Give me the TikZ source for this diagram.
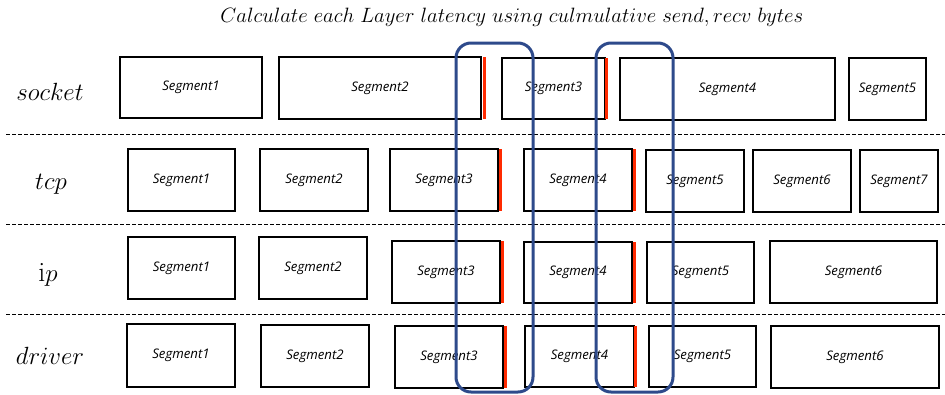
\documentclass[tikz,border=0pt]{standalone}
\usepackage{fontspec}
\newfontfamily\segfont{Open Sans}
\definecolor{windowblue}{HTML}{2E4A8B}
\definecolor{markred}{HTML}{FF2A00}
\tikzset{
  segbox/.style={draw=black, line width=1.6pt, inner sep=0pt, outer sep=0pt,
    font=\segfont\itshape\fontsize{13.2}{15}\selectfont},
  bytemark/.style={draw=markred, line width=3pt},
  window/.style={draw=windowblue, line width=3pt, rounded corners=15pt},
  layersep/.style={draw=black, line width=0.9pt, dash pattern=on 4pt off 2pt},
  layername/.style={font=\fontsize{28}{30}\selectfont},
  caption/.style={font=\fontsize{20.2}{22}\selectfont}
}
% box from (x1,y1) to (x2,y2)
\newcommand\segbox[6]{\node[segbox, minimum width={#4-#2}, minimum height={#5-#3}]
  (#1) at ({(#2+#4)/2},{(#3+#5)/2}) {Segment#6};}
% red byte mark right of a box
\newcommand\bytemark[2]{\draw[bytemark] ([xshift=#2pt]#1.north east) -- ([xshift=#2pt]#1.south east);}
\begin{document}
\begin{tikzpicture}[x=1pt,y=-1pt]
\useasboundingbox[fill=white] (0,0) rectangle (945,394);

\node[caption] (title) at (512,17) {$Calculate\ each\ Layer\ latency\ using\ culmulative\ send,recv\ bytes$};

% layer names
\node[layername] (socket) at (50,92) {$socket$};
\node[layername] (tcp) at (51,184) {$tcp$};
\node[layername] (ip) at (48,275) {\textup{i}$p$};
\node[layername] (driver) at (50,356) {$driver$};

% layer separators
\coordinate (l1) at (6,134);  \coordinate (r1) at (945,134);
\coordinate (l2) at (6,224);  \coordinate (r2) at (945,224);
\coordinate (l3) at (6,314);  \coordinate (r3) at (945,314);
\draw[layersep] (l1) -- (r1);
\draw[layersep] (l2) -- (r2);
\draw[layersep] (l3) -- (r3);

% socket
\segbox{s1}{120}{57}{262}{118}{1}
\segbox{s2}{279}{57}{481}{119}{2}
\segbox{s3}{502}{58}{605}{119}{3}
\segbox{s4}{620}{58}{835}{120}{4}
\segbox{s5}{849}{58}{926}{120}{5}
% tcp
\segbox{t1}{128}{149}{235}{211}{1}
\segbox{t2}{260}{149}{368}{211}{2}
\segbox{t3}{390}{149}{498}{211}{3}
\segbox{t4}{524}{149}{632}{211}{4}
\segbox{t5}{646}{150}{744}{212}{5}
\segbox{t6}{753}{150}{851}{212}{6}
\segbox{t7}{860}{150}{938}{212}{7}
% ip
\segbox{i1}{128}{237}{235}{299}{1}
\segbox{i2}{259}{237}{367}{299}{2}
\segbox{i3}{392}{241}{500}{303}{3}
\segbox{i4}{524}{242}{632}{303}{4}
\segbox{i5}{647}{242}{754}{303}{5}
\segbox{i6}{770}{241}{937}{303}{6}
% driver
\segbox{d1}{127}{324}{235}{387}{1}
\segbox{d2}{261}{325}{369}{387}{2}
\segbox{d3}{395}{326}{503}{388}{3}
\segbox{d4}{525}{326}{634}{387}{4}
\segbox{d5}{649}{326}{756}{387}{5}
\segbox{d6}{771}{326}{939}{388}{6}

% cumulative byte marks
\bytemark{s2}{3}
\bytemark{s3}{1.2}
\bytemark{t3}{2.6}
\bytemark{t4}{2.6}
\bytemark{i3}{2.6}
\bytemark{i4}{2.6}
\bytemark{d3}{2.6}
\bytemark{d4}{1.2}

% latency windows
\draw[window] (456,43) rectangle (533,392);
\draw[window] (596,43) rectangle (673,392);
\end{tikzpicture}
\end{document}
